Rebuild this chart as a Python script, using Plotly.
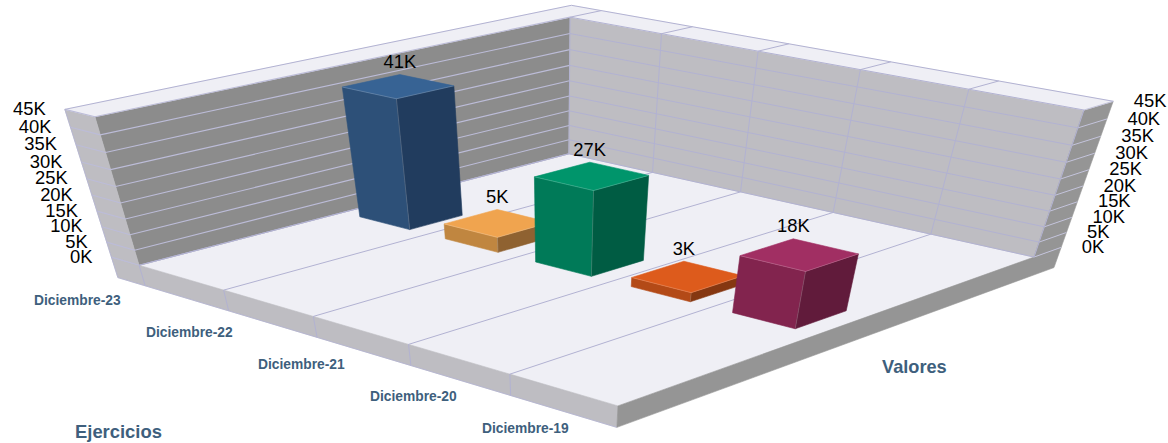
import numpy as np
import plotly.graph_objects as go

# ---- data
categories = ["Diciembre-23", "Diciembre-22", "Diciembre-21", "Diciembre-20", "Diciembre-19"]
values = [41000, 5000, 27000, 3000, 18000]
value_labels = ["41K", "5K", "27K", "3K", "18K"]
tick_values = [0, 5000, 10000, 15000, 20000, 25000, 30000, 35000, 40000, 45000]
tick_labels = ["0K", "5K", "10K", "15K", "20K", "25K", "30K", "35K", "40K", "45K"]
top_colors = ["#376394", "#f0a44f", "#00956b", "#dd5b1c", "#a12f63"]
left_colors = ["#2d5078", "#c08640", "#007a58", "#b34a17", "#82244e"]
right_colors = ["#213c5e", "#8f6231", "#005c43", "#853711", "#611b3b"]

ZMAX = 45000.0
W, H = 1168, 443

# ---- camera of the 3D box: model corner -> page position
calib_model = [(0,0,0),(1,0,0),(0,1,0),(1,1,0),(0,0,1),(0,1,1),(1,1,1)]
calib_page = [(139,265),(618,406),(569,154),(1034,257),(95,117),(570,17),(1084,110)]
A = []
for (a,b,c),(px,py) in zip(calib_model, calib_page):
    A.append([a,b,c,1,0,0,0,0,-px*a,-px*b,-px*c,-px])
    A.append([0,0,0,0,a,b,c,1,-py*a,-py*b,-py*c,-py])
P = np.linalg.svd(np.array(A,float))[2][-1].reshape(3,4)

def proj(pts):
    pts = np.array(pts,float)
    h = np.c_[pts, np.ones(len(pts))] @ P.T
    return h[:,0]/h[:,2], h[:,1]/h[:,2]

fig = go.Figure()

def face(pts, color, line=None, lw=0.6):
    x,y = proj(list(pts)+[pts[0]])
    fig.add_trace(go.Scatter(x=x,y=y,mode="lines",fill="toself",fillcolor=color,
        line=dict(color=line or color,width=lw),hoverinfo="skip",showlegend=False))

def path(pts, color="#b9b9d6", lw=0.9):
    x,y = proj(pts)
    fig.add_trace(go.Scatter(x=x,y=y,mode="lines",line=dict(color=color,width=lw),
        hoverinfo="skip",showlegend=False))

d, e, t = 0.068, 0.078, 0.155
FLOOR, LIGHT, DARK, SIDE = "#efeff5", "#bebdc2", "#8c8c8c", "#959595"
face([(0,0,0),(1,0,0),(1,1,0),(0,1,0)], FLOOR)
face([(-d,0,0),(1,0,0),(1,0,-t),(-d,0,-t)], LIGHT)
face([(1,0,0),(1,1+e,0),(1,1+e,-t),(1,0,-t)], SIDE)
face([(0,0,0),(0,1,0),(0,1,1),(0,0,1)], DARK)
face([(0,1,0),(1,1,0),(1,1,1),(0,1,1)], LIGHT)
face([(-d,0,0),(0,0,0),(0,0,1),(-d,0,1)], LIGHT)
face([(1,1,0),(1,1+e,0),(1,1+e,1),(1,1,1)], SIDE)
face([(-d,0,1),(0,0,1),(0,1,1),(-d,1+e,1)], FLOOR)
face([(0,1,1),(1,1,1),(1,1+e,1),(-d,1+e,1)], FLOOR)

for tv in tick_values:
    w = tv/ZMAX
    path([(-d,0,w),(0,0,w),(0,1,w)], "#bcbcd8", 1.1)
    path([(0,1,w),(1,1,w)], "#b2b2d2", 1.0)
    path([(1,1,w),(1,1+e,w)], "#c4c4dc", 1.0)
for i in range(5):
    u = i/5
    path([(u,0,-t),(u,0,0),(u,1,0),(u,1,1),(u,1+e,1)], "#b2b2d2", 1.0)
path([(1,1,0),(1,1,1)], "#b2b2d2", 1.0)
path([(-d,0,-t),(1,0,-t)], "#b2b2d2", 0.8)
path([(-d,0,1),(-d,1+e,1),(1,1+e,1)], "#b2b2d2", 1.0)
path([(-d,0,1),(-d,0,-t)], "#b2b2d2", 0.8)

# ---- bars
half_u, v0, v1 = 0.059, 0.438, 0.561
for i,val in enumerate(values):
    c = (i+0.5)/5
    u0,u1 = c-half_u, c+half_u
    w = val/ZMAX
    face([(u0,v0,0),(u1,v0,0),(u1,v0,w),(u0,v0,w)], left_colors[i])
    face([(u1,v0,0),(u1,v1,0),(u1,v1,w),(u1,v0,w)], right_colors[i])
    face([(u0,v0,w),(u1,v0,w),(u1,v1,w),(u0,v1,w)], top_colors[i])
    path([(u0,v0,w),(u1,v0,w),(u1,v1,w)], "rgba(255,255,255,0.3)", 0.6)
    path([(u1,v0,w),(u1,v0,0)], "rgba(255,255,255,0.3)", 0.6)
    x,y = proj([(u0,v1,w)])
    fig.add_trace(go.Scatter(x=[x[0]],y=[y[0]-11],mode="text",text=[value_labels[i]],
        textposition="middle center",textfont=dict(family="Liberation Sans",size=18.4,color="#000"),
        hoverinfo="skip",showlegend=False))

# ---- wall tick labels
for tv,lab in zip(tick_values,tick_labels):
    w = tv/ZMAX
    x,y = proj([(-d,0,w),(1,1+e,w)])
    fig.add_trace(go.Scatter(x=[x[0]-19],y=[y[0]+1],mode="text",text=[lab],textposition="middle left",
        textfont=dict(family="Liberation Sans",size=18.4,color="#000"),hoverinfo="skip",showlegend=False))
    fig.add_trace(go.Scatter(x=[x[1]+20.5],y=[y[1]+1],mode="text",text=[lab],textposition="middle right",
        textfont=dict(family="Liberation Sans",size=18.4,color="#000"),hoverinfo="skip",showlegend=False))

ann = [dict(x=77+112*i,y=300+32*i,text=c,showarrow=False,
            font=dict(family="Liberation Sans",size=13.8,color="#3e5f7d",weight="bold"))
       for i,c in enumerate(categories)]
ann.append(dict(x=118.5,y=431,text="Ejercicios",showarrow=False,font=dict(family="Liberation Sans",size=18.4,color="#3e5f7d",weight="bold")))
ann.append(dict(x=914.5,y=367,text="Valores",showarrow=False,font=dict(family="Liberation Sans",size=18.2,color="#3e5f7d",weight="bold")))

fig.update_layout(width=W,height=H,margin=dict(l=0,r=0,t=0,b=0),paper_bgcolor="#fff",plot_bgcolor="#fff",
    xaxis=dict(range=[0,W],visible=False,fixedrange=True),
    yaxis=dict(range=[H,0],visible=False,fixedrange=True),
    annotations=ann,showlegend=False)
fig.write_html("out.html",post_script="document.body.style.margin='0';",config={"displayModeBar":False})
